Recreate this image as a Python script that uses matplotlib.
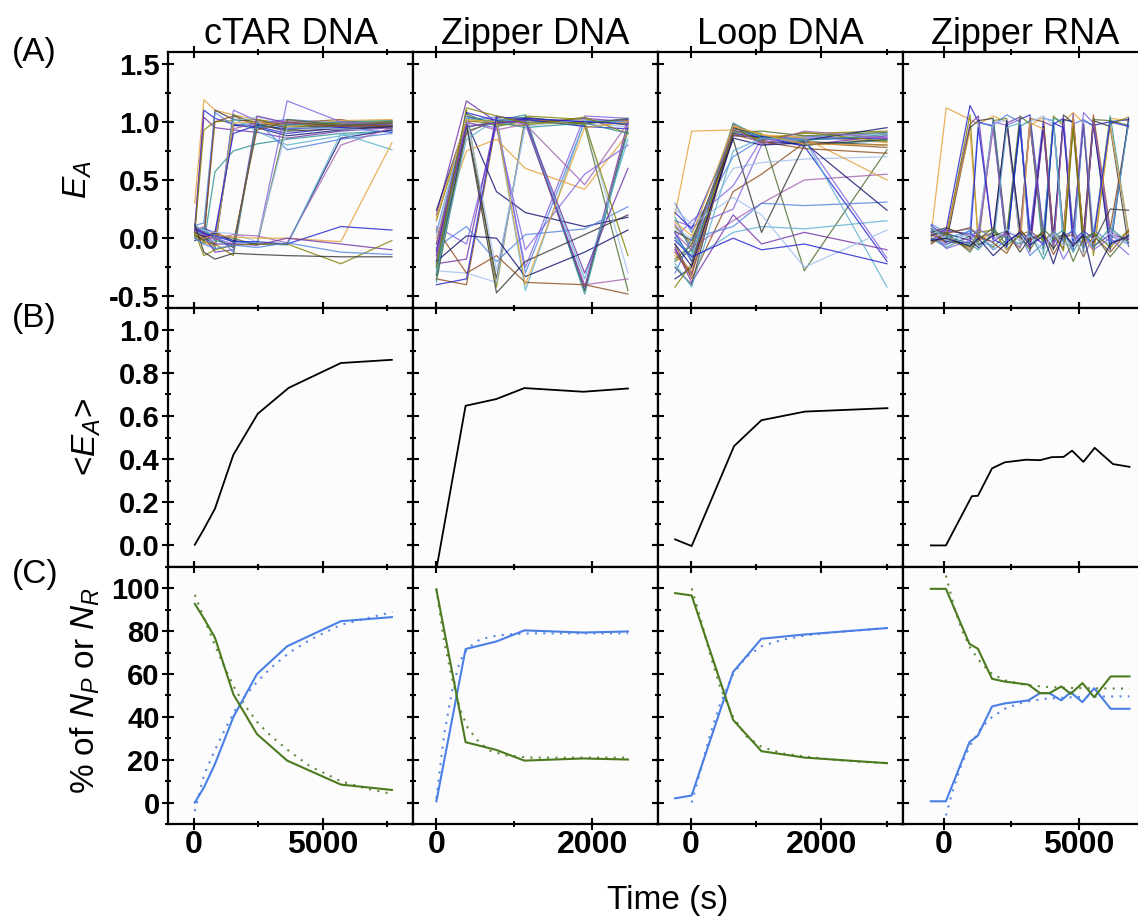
import matplotlib
matplotlib.use("Agg")
import matplotlib.pyplot as plt
from matplotlib.ticker import MultipleLocator, FormatStrFormatter

plt.rcParams['font.family'] = ['Liberation Sans', 'DejaVu Sans']
plt.rcParams['font.weight'] = 'bold'
plt.rcParams['mathtext.fontset'] = 'custom'
plt.rcParams['mathtext.rm'] = 'Liberation Sans:weight=normal'
plt.rcParams['mathtext.it'] = 'Liberation Sans:style=italic:weight=normal'
plt.rcParams['axes.unicode_minus'] = False

constructs = ['cTAR DNA', 'Zipper DNA', 'Loop DNA', 'Zipper RNA']

# ---- (A) single-molecule E_A trajectories ----
t_ctar = [39, 391, 820, 1536, 2448, 3620, 5703, 7682]
ea_ctar = [
    [0.30, 1.19, 1.10, 1.06, 1.02, 0.97, 0.99, 1.01],
    [0.06, 1.10, 1.03, 0.98, 0.96, 0.90, 0.95, 0.97],
    [0.10, 1.04, 0.95, 0.93, 0.91, 0.86, 0.92, 0.95],
    [0.04, 0.93, 1.00, 1.01, 1.02, 0.98, 0.96, 0.98],
    [0.02, -0.02, 1.10, 1.02, 1.00, 0.95, 0.97, 1.00],
    [0.11, 0.13, 1.08, 0.97, 0.99, 1.02, 0.99, 0.96],
    [0.00, -0.05, 0.57, 0.75, 0.81, 0.85, 0.90, 0.92],
    [0.08, 0.02, 1.00, 1.05, 0.97, 0.99, 1.02, 0.94],
    [0.05, 0.00, -0.10, 1.10, 1.01, 0.98, 0.96, 0.95],
    [0.09, 0.04, -0.08, 1.06, 0.98, 0.93, 0.97, 0.99],
    [0.02, 0.07, -0.03, 1.01, 1.04, 0.99, 1.00, 0.97],
    [-0.02, 0.01, -0.06, 0.97, 0.95, 0.88, 0.93, 0.96],
    [0.07, 0.10, 0.02, 0.94, 0.99, 1.01, 0.98, 1.00],
    [0.12, 0.05, -0.09, 1.03, 0.92, 0.80, 0.88, 0.93],
    [0.03, -0.04, -0.07, 0.99, 1.00, 0.96, 1.01, 1.02],
    [0.06, 0.08, 0.05, 0.90, 0.97, 0.94, 0.95, 0.91],
    [0.04, 0.02, -0.12, -0.10, 1.05, 0.99, 0.97, 0.98],
    [0.08, -0.03, -0.05, -0.15, 1.02, 0.95, 0.99, 1.00],
    [0.01, 0.06, 0.00, -0.08, 0.98, 0.92, 0.94, 0.96],
    [0.10, 0.03, 0.04, -0.12, 1.00, 0.76, 0.85, 0.90],
    [0.05, 0.09, -0.02, -0.06, 0.96, 0.97, 1.00, 1.01],
    [0.02, 0.00, 0.06, -0.04, 0.93, 1.00, 0.96, 0.97],
    [0.06, 0.04, 0.00, -0.05, -0.05, 1.18, 1.00, 0.98],
    [0.03, -0.02, 0.03, 0.00, -0.06, 1.02, 0.97, 0.99],
    [0.09, 0.07, 0.05, 0.04, -0.03, 0.95, 0.94, 0.92],
    [0.05, 0.01, 0.04, -0.02, -0.05, -0.05, 0.86, 0.93],
    [0.07, 0.03, -0.01, 0.03, 0.02, -0.04, 0.80, 0.95],
    [0.02, 0.06, 0.02, -0.03, -0.04, -0.06, 0.90, 0.76],
    [0.04, 0.00, 0.03, 0.01, 0.00, 0.00, -0.03, 0.82],
    [0.08, 0.04, 0.02, -0.03, -0.03, -0.05, 0.10, 0.07],
    [0.10, 0.05, -0.05, -0.05, -0.06, 0.00, -0.05, -0.10],
    [0.05, -0.15, -0.10, -0.06, -0.05, -0.05, -0.22, -0.02],
    [0.12, -0.12, -0.18, -0.13, -0.14, -0.15, -0.16, -0.16],
    [0.00, -0.05, -0.09, -0.06, -0.08, -0.04, -0.12, -0.14],
]

t_zdna = [0, 385, 770, 1140, 1900, 2455]
ea_zdna = [
    [-0.10, 1.00, 1.02, 1.00, 1.01, 0.98],
    [-0.20, 1.05, 0.98, 1.03, 1.00, 1.02],
    [0.20, 1.18, 1.00, 0.99, 1.03, 1.00],
    [-0.30, 1.10, -0.42, 1.05, 1.02, 0.97],
    [-0.15, 0.98, -0.35, 1.00, -0.45, 0.95],
    [0.05, 1.02, 1.04, -0.30, 1.00, 0.99],
    [-0.25, 0.95, 1.01, 1.06, -0.48, 0.92],
    [-0.35, -0.40, 1.00, 1.02, 0.99, 1.01],
    [0.10, -0.05, 0.97, -0.25, 1.05, 1.03],
    [-0.05, 1.07, 0.96, 1.01, 0.97, -0.45],
    [-0.28, -0.30, -0.38, 1.00, 0.98, 0.96],
    [0.24, 1.00, 0.40, 0.22, 0.10, 0.18],
    [-0.18, 0.90, 1.03, 0.98, -0.40, -0.35],
    [-0.38, 1.03, 0.99, -0.45, 1.01, 1.00],
    [0.00, 0.75, 0.85, 0.60, 0.42, 0.90],
    [-0.12, 1.08, 1.01, 1.02, 0.96, 0.94],
    [-0.22, -0.18, 1.05, 1.00, -0.42, 1.00],
    [0.15, 1.01, 0.98, 0.97, 1.04, 0.90],
    [-0.32, 0.97, -0.47, -0.20, 0.03, 0.20],
    [-0.08, 0.10, -0.20, 0.03, 0.08, 0.27],
    [-0.26, 1.04, 1.00, 0.95, 0.99, 0.90],
    [0.08, -0.30, -0.15, -0.38, -0.40, -0.48],
    [-0.14, 0.99, 0.95, -0.10, 0.55, 0.80],
    [-0.36, 0.92, 1.00, 1.04, 0.98, 1.03],
    [0.02, 1.06, -0.28, 0.96, 1.02, -0.30],
    [-0.20, 0.02, 0.00, -0.33, -0.12, 0.07],
    [-0.05, 1.00, 0.93, 0.98, 0.46, 0.99],
    [-0.30, 0.85, 1.02, 1.00, -0.35, 0.85],
    [0.18, 1.02, 1.00, -0.40, 0.95, 1.00],
    [-0.40, -0.35, 1.04, 1.03, 1.00, 0.98],
    [-0.10, 0.96, 0.99, 1.01, -0.30, 0.60],
    [-0.24, 1.12, 1.05, 0.99, 0.99, -0.15],
]

t_loop = [-240, 15, 650, 1085, 1740, 3005]
ea_loop = [
    [0.20, 0.92, 0.93, 0.85, 0.88, 0.82],
    [0.05, -0.20, 0.95, 0.88, 0.85, 0.86],
    [-0.10, -0.30, 0.98, 0.84, 0.80, 0.88],
    [0.10, -0.05, 0.90, 0.86, 0.90, 0.92],
    [-0.25, -0.40, 0.96, 0.82, 0.83, 0.80],
    [0.30, 0.05, 0.70, 0.85, 0.87, 0.90],
    [0.00, -0.15, 0.92, 0.88, 0.80, 0.84],
    [-0.05, -0.35, 0.40, 0.55, 0.82, 0.78],
    [0.15, 0.10, 0.25, 0.80, 0.86, 0.87],
    [-0.20, -0.10, 0.94, 0.90, -0.28, 0.76],
    [0.08, 0.00, 0.60, 0.65, 0.68, 0.70],
    [-0.35, -0.25, 0.88, 0.87, 0.84, 0.95],
    [0.12, -0.08, 0.15, 0.30, 0.50, 0.55],
    [0.02, -0.18, 0.05, 0.10, 0.08, 0.15],
    [-0.15, -0.28, 0.97, 0.89, 0.86, 0.50],
    [0.22, 0.08, 0.90, 0.87, 0.79, -0.20],
    [-0.08, -0.38, 0.20, -0.05, 0.05, -0.10],
    [-0.42, -0.22, 0.93, 0.84, 0.91, 0.83],
    [0.06, -0.02, 0.85, 0.05, 0.80, 0.85],
    [-0.30, 0.00, 0.10, 0.30, 0.28, 0.31],
    [0.18, -0.12, 0.99, 0.86, 0.84, 0.89],
    [-0.12, -0.32, 0.89, 0.83, 0.77, 0.73],
    [0.00, 0.15, 0.45, 0.85, 0.85, -0.17],
    [-0.18, -0.06, 0.91, 0.92, 0.88, 0.91],
    [0.25, 0.12, 0.35, 0.20, -0.25, 0.07],
    [-0.05, -0.24, 0.86, 0.80, 0.82, 0.24],
    [0.04, -0.10, 0.94, 0.81, 0.92, 0.86],
    [-0.22, -0.42, 0.75, 0.86, 0.85, -0.42],
    [0.14, 0.02, 0.96, 0.89, 0.81, 0.80],
    [-0.02, -0.16, 0.00, -0.10, -0.05, -0.22],
]

t_zrna = [-450, 100, 980, 1290, 1840, 2340, 2830, 3200, 3700, 4070,
          4440, 4800, 5180, 5550, 6170, 6850]
ea_zrna = [
    [0.05, 1.12, 1.02, 0.98, 1.05, 1.00, 0.02, 0.97, 1.04, -0.05, 1.00, 1.08, 0.99, 0.00, 1.03, 1.01],
    [0.02, 0.08, 1.14, 1.00, 0.96, -0.08, 1.02, 1.06, 0.04, 0.98, 1.03, -0.10, 1.01, 0.97, 1.00, 1.02],
    [0.10, 0.03, 0.98, 1.05, -0.02, 0.99, 1.04, -0.12, 1.00, 0.96, 0.05, 1.07, -0.06, 1.02, -0.04, 0.00],
    [-0.02, 0.00, 1.06, -0.05, 1.01, 1.03, 0.06, 0.99, -0.08, 1.05, 0.97, 0.01, 1.00, -0.15, 0.98, 1.04],
    [0.06, -0.04, 0.95, 1.01, 1.03, 0.00, 0.98, -0.03, 0.97, -0.10, 1.06, 0.99, 0.03, 1.01, 0.96, -0.07],
    [0.12, 0.05, 0.08, 0.99, 0.97, 1.06, 1.00, 0.02, 1.03, 1.01, -0.06, 0.98, 1.02, 0.96, -0.02, 1.00],
    [0.00, -0.08, 0.02, 0.06, 1.02, -0.05, 0.96, 1.01, -0.14, 1.03, 1.00, 0.07, 0.97, -0.02, 1.05, 0.04],
    [0.08, 0.02, -0.10, 0.00, 0.05, 0.99, -0.02, 1.03, 1.00, 0.03, -0.09, 1.02, 0.00, 1.06, 0.08, 0.98],
    [-0.04, 0.06, 0.04, -0.03, 1.00, 0.97, 1.02, 0.05, 0.99, -0.04, 1.04, -0.01, 1.08, 0.99, 0.02, -0.05],
    [0.03, -0.02, -0.06, 0.02, -0.08, 0.04, 1.05, 0.98, 0.01, 1.00, 0.06, 0.96, -0.12, 1.02, 1.01, 0.97],
    [0.09, 0.01, 0.05, 0.07, 0.98, 1.02, -0.05, 1.00, 1.05, 0.97, 0.00, -0.03, 1.01, 0.04, 0.99, 0.02],
    [-0.01, 0.04, -0.02, -0.08, 0.03, 1.01, 0.08, -0.04, 0.96, 0.02, 1.02, 1.00, -0.02, 0.98, -0.10, 1.03],
    [0.04, -0.05, 0.00, 0.03, 0.94, -0.03, 0.05, 0.97, 0.00, -0.07, 0.99, 0.04, -0.05, 1.00, 0.06, -0.03],
    [0.07, 0.00, 0.06, -0.04, -0.06, 0.95, 0.99, -0.06, 0.07, 1.01, -0.04, -0.08, 0.96, 0.03, -0.06, 0.99],
    [0.01, 0.03, 0.92, -0.02, 0.04, 0.02, -0.09, 0.99, 0.94, 0.00, 0.03, 1.04, 0.01, -0.11, 0.97, 0.05],
    [0.11, -0.03, -0.04, 0.95, -0.01, -0.07, 0.97, 0.03, -0.05, 0.99, 0.95, -0.02, 0.06, 0.00, 1.00, 0.96],
    [0.02, 0.07, 0.03, 0.01, -0.03, 0.05, 0.01, -0.08, 0.93, -0.03, 0.02, 0.06, 0.98, -0.07, 0.03, -0.01],
    [-0.03, -0.01, -0.08, 0.05, 0.07, -0.10, 0.03, 0.06, -0.02, 0.05, -0.11, 0.95, -0.03, 0.05, -0.08, 0.07],
    [0.05, 0.09, 0.01, -0.06, 0.02, 0.06, -0.12, 0.00, 0.03, -0.09, 0.04, -0.05, 0.02, -0.04, 0.25, 0.24],
    [0.00, -0.06, 0.07, 0.04, -0.10, -0.02, 0.04, -0.15, -0.04, 0.06, -0.02, 0.08, -0.09, 0.07, -0.03, 0.01],
    [0.08, 0.02, -0.05, -0.10, 0.06, 0.00, -0.05, 0.04, -0.18, 0.01, 0.07, -0.12, 0.05, -0.08, 0.09, -0.04],
    [-0.05, 0.04, 0.09, 0.02, -0.04, -0.13, 0.07, -0.02, 0.05, -0.14, 0.01, 0.03, -0.16, 0.02, -0.12, 0.06],
    [0.06, -0.09, -0.02, 0.08, 0.00, 0.03, -0.08, 0.07, -0.06, 0.02, -0.18, -0.04, 0.04, -0.10, 0.00, -0.14],
    [0.03, 0.05, -0.12, -0.01, 0.09, -0.06, 0.02, -0.10, 0.08, -0.01, 0.03, -0.20, 0.00, 0.04, -0.16, 0.03],
    [0.10, -0.02, 0.03, -0.07, -0.02, 0.08, -0.03, 0.02, -0.11, 0.04, -0.06, 0.01, -0.14, 0.00, 0.04, -0.06],
    [-0.02, 0.00, -0.07, 0.00, -0.15, -0.04, 0.05, -0.06, 0.02, -0.22, 0.05, -0.07, 0.03, -0.33, -0.05, 0.02],
]

# ---- (B) ensemble mean <E_A> ----
tm_ctar = [39, 365, 820, 1535, 2480, 3680, 5700, 7680]
mean_ctar = [0.003, 0.07, 0.17, 0.42, 0.61, 0.73, 0.845, 0.86]
tm_zdna = [0, 374, 766, 1128, 1882, 2455]
mean_zdna = [-0.11, 0.647, 0.678, 0.729, 0.712, 0.727]
tm_loop = [-238, 15, 664, 1083, 1747, 3011]
mean_loop = [0.028, -0.003, 0.46, 0.58, 0.62, 0.636]
tm_zrna = [-470, 89, 1048, 1274, 1796, 2266, 3052, 3574, 4011, 4444,
           4759, 5178, 5596, 6274, 6885]
mean_zrna = [0.0, 0.0, 0.228, 0.23, 0.357, 0.385, 0.397, 0.395, 0.409, 0.41,
             0.439, 0.387, 0.452, 0.377, 0.364]

# ---- (C) percentage of N_P (blue) and N_R (green), with fits ----
tc_ctar = [39, 391, 820, 1536, 2448, 3620, 5703, 7682]
np_ctar = [0.0, 7.0, 18.0, 40.0, 60.0, 73.0, 84.7, 86.6]
nr_ctar = [92.8, 86.0, 77.0, 50.5, 32.0, 19.6, 8.4, 5.9]
tf_ctar = [39, 400, 800, 1200, 1600, 2000, 2500, 3000, 3700, 4500, 5700, 6700, 7700]
fp_ctar = [-4, 13, 24, 34, 43, 50, 57, 63, 70, 76, 83, 86, 89]
fr_ctar = [97, 86, 74, 63, 53, 45, 37, 31, 24, 17, 10, 6.5, 4]

tc_zdna = [0, 374, 766, 1128, 1882, 2455]
np_zdna = [0.6, 71.7, 75.2, 80.4, 79.4, 79.9]
nr_zdna = [99.4, 28.2, 24.6, 19.6, 20.6, 20.1]
tf_zdna = [0, 100, 200, 300, 400, 550, 700, 900, 1200, 1600, 2000, 2455]
fp_zdna = [2, 32, 52, 66, 72, 76, 77.5, 78.5, 79, 79, 79, 79]
fr_zdna = [100, 75, 58, 44, 35, 28, 24, 22, 21, 21, 21, 21]

tc_loop = [-238, 15, 650, 1083, 1747, 3005]
np_loop = [2.0, 3.3, 61.0, 76.5, 78.5, 81.5]
nr_loop = [97.8, 96.7, 38.6, 24.0, 21.0, 18.4]
tf_loop = [15, 150, 300, 450, 650, 850, 1085, 1400, 1750, 2200, 2600, 3005]
fp_loop = [0, 15, 32, 46, 60, 68, 73, 76, 78, 79.5, 80.5, 81.5]
fr_loop = [100, 86, 69, 54, 40, 31, 26, 23, 21.5, 20, 19, 18.5]

tc_zrna = [-470, 89, 960, 1274, 1796, 2266, 3137, 3574, 3922, 4359,
           4707, 5144, 5578, 6189, 6885]
np_zrna = [0.6, 0.6, 28.2, 31.3, 44.9, 46.3, 47.7, 51.1, 51.1, 47.7,
           51.5, 46.9, 53.4, 43.8, 43.8]
nr_zrna = [99.8, 99.8, 74.1, 71.8, 57.8, 56.5, 55.1, 51.1, 51.1, 54.2,
           50.8, 55.8, 49.2, 58.9, 58.9]
tf_zrna = [89, 400, 700, 1000, 1400, 1800, 2300, 3000, 3800, 4800, 5800, 6885]
fp_zrna = [-6, 8, 19, 27, 35, 40, 44, 47, 48.5, 49.2, 49.5, 49.6]
fr_zrna = [106, 91, 80, 72, 65, 60, 57, 55, 54, 53.5, 53.3, 53.2]

traj = [(t_ctar, ea_ctar), (t_zdna, ea_zdna), (t_loop, ea_loop), (t_zrna, ea_zrna)]
means = [(tm_ctar, mean_ctar), (tm_zdna, mean_zdna), (tm_loop, mean_loop), (tm_zrna, mean_zrna)]
pops = [(tc_ctar, np_ctar, nr_ctar, tf_ctar, fp_ctar, fr_ctar),
        (tc_zdna, np_zdna, nr_zdna, tf_zdna, fp_zdna, fr_zdna),
        (tc_loop, np_loop, nr_loop, tf_loop, fp_loop, fr_loop),
        (tc_zrna, np_zrna, nr_zrna, tf_zrna, fp_zrna, fr_zrna)]

xlims = [(-1000, 8500), (-300, 2840), (-500, 3250), (-1500, 7570)]
xmajor = [5000, 2000, 2000, 5000]
ylims = [(-0.6, 1.6), (-0.1, 1.1), (-10, 110)]
ymajor = [0.5, 0.2, 20]
yfmt = ['%.1f', '%.1f', '%d']

palette = ['#e4a035', '#2020d0', '#7030a8', '#808000', '#333333', '#4f80e0',
           '#2a9090', '#8b4a1a', '#8060e0', '#4b6b2f', '#9fbff0', '#101070',
           '#a060b0', '#5ab0d0']

W, H = 1138, 923
col_left = [168, 413, 658, 903]
row_top = [52, 308, 567]
row_bot = [308, 567, 824]
pw = 245

fig = plt.figure(figsize=(W / 100, H / 100), dpi=100, facecolor='white')

for r in range(3):
    for c in range(4):
        ax = fig.add_axes([col_left[c] / W, 1 - row_bot[r] / H, pw / W,
                           (row_bot[r] - row_top[r]) / H])
        ax.set_facecolor('#fcfcfc')

        if r == 0:
            t, rows = traj[c]
            for i, vals in enumerate(rows):
                ax.plot(t, vals, color=palette[i % len(palette)], lw=0.9, alpha=0.8)
            ax.set_title(constructs[c], fontsize=26, fontweight='normal', pad=3)
        elif r == 1:
            t, m = means[c]
            ax.plot(t, m, color='black', lw=1.3)
        else:
            tc, npv, nrv, tf, fpv, frv = pops[c]
            ax.plot(tf, fpv, color='#5b87e0', lw=1.5, ls=(0, (1, 3)))
            ax.plot(tf, frv, color='#5f8a40', lw=1.5, ls=(0, (1, 3)))
            ax.plot(tc, npv, color='#4a7fe6', lw=1.5)
            ax.plot(tc, nrv, color='#4c7a1e', lw=1.5)

        ax.set_xlim(*xlims[c])
        ax.set_ylim(*ylims[r])
        ax.xaxis.set_major_locator(MultipleLocator(xmajor[c]))
        ax.xaxis.set_minor_locator(MultipleLocator(xmajor[c] / 2))
        ax.yaxis.set_major_locator(MultipleLocator(ymajor[r]))
        ax.yaxis.set_minor_locator(MultipleLocator(ymajor[r] / 2))
        ax.yaxis.set_major_formatter(FormatStrFormatter(yfmt[r]))

        for s in ax.spines.values():
            s.set_linewidth(1.6)
        ax.tick_params(which='both', direction='inout', top=True, right=True,
                       width=1.5, labelbottom=(r == 2), labelleft=(c == 0))
        ax.tick_params(which='major', length=8)
        ax.tick_params(which='minor', length=5)
        ax.tick_params(axis='x', labelsize=23, pad=0)
        ax.tick_params(axis='y', labelsize=21, pad=2)

for lbl, yc in zip(['(A)', '(B)', '(C)'], [53, 318, 574]):
    fig.text(12 / W, 1 - yc / H, lbl, fontsize=24, fontweight='normal',
             ha='left', va='center')

fig.text(78 / W, 1 - 180 / H, r'$E_A$', rotation=90, fontsize=24,
         fontweight='normal', ha='center', va='center')
fig.text(87 / W, 1 - 437 / H, r'<$E_A$>', rotation=90, fontsize=24,
         fontweight='normal', ha='center', va='center')
fig.text(85 / W, 1 - 690 / H, r'% of $N_P$ or $N_R$', rotation=90, fontsize=24,
         fontweight='normal', ha='center', va='center')
fig.text(668 / W, 1 - 901 / H, 'Time (s)', fontsize=24, fontweight='normal',
         ha='center', va='center')

fig.savefig('out.png', dpi=100)
